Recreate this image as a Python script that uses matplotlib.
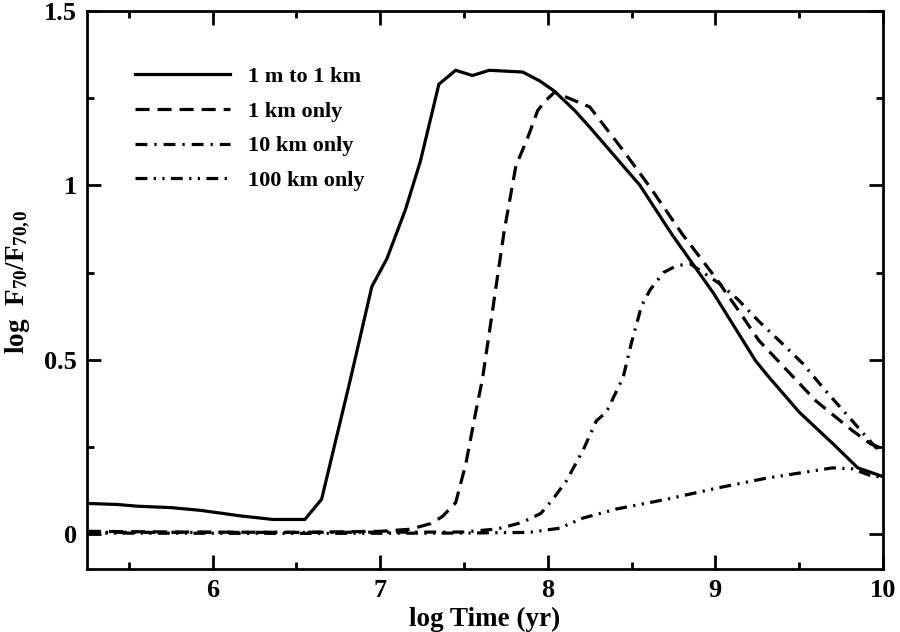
import numpy as np
import matplotlib as mpl
mpl.use("Agg")
import matplotlib.pyplot as plt

plt.rcParams['font.family'] = ['Liberation Serif', 'DejaVu Serif']
plt.rcParams['font.weight'] = 'bold'
plt.rcParams['mathtext.default'] = 'regular'

# 1 m to 1 km
x_all = [5.25, 5.43, 5.55, 5.75, 5.93, 6.17, 6.36, 6.55, 6.65, 6.82, 6.95, 7.04, 7.15, 7.24,
         7.35, 7.45, 7.55, 7.65, 7.85, 7.95, 8.04, 8.16, 8.25, 8.55, 8.74, 8.99, 9.24, 9.32,
         9.5, 9.7, 9.85, 10.0]
y_all = [0.088, 0.085, 0.080, 0.076, 0.068, 0.052, 0.042, 0.042, 0.10, 0.44, 0.71, 0.79, 0.93, 1.07,
         1.29, 1.33, 1.315, 1.33, 1.325, 1.30, 1.27, 1.215, 1.167, 1.0, 0.86, 0.69, 0.497, 0.45,
         0.35, 0.26, 0.19, 0.165]

# 1 km only
x_1km = [5.25, 5.8, 6.5, 7.0, 7.18, 7.3, 7.37, 7.45, 7.51, 7.57, 7.61, 7.67, 7.74, 7.81, 7.875,
         7.94, 7.99, 8.04, 8.25, 8.45, 8.61, 8.8, 9.0, 9.14, 9.26, 9.6, 9.82, 9.93, 10.0]
y_1km = [0.008, 0.006, 0.005, 0.008, 0.014, 0.03, 0.05, 0.09, 0.2, 0.35, 0.445, 0.64, 0.87, 1.057, 1.13,
         1.215, 1.244, 1.267, 1.225, 1.10, 0.995, 0.862, 0.736, 0.64, 0.555, 0.382, 0.296, 0.258, 0.245]

# 10 km only
x_10km = [5.25, 6.5, 7.5, 7.7, 7.82, 7.89, 7.96, 8.03, 8.11, 8.21, 8.29, 8.35, 8.41, 8.45, 8.5,
          8.56, 8.61, 8.69, 8.77, 8.85, 9.02, 9.13, 9.26, 9.40, 9.52, 9.66, 9.78, 9.96, 10.0]
y_10km = [0.005, 0.005, 0.006, 0.015, 0.03, 0.043, 0.06, 0.1, 0.152, 0.24, 0.325, 0.35, 0.41, 0.45, 0.55,
          0.655, 0.7, 0.75, 0.77, 0.775, 0.72, 0.675, 0.61, 0.546, 0.49, 0.41, 0.345, 0.247, 0.245]

# 100 km only
x_100km = [5.25, 6.5, 7.5, 7.89, 8.07, 8.21, 8.41, 8.71, 9.01, 9.30, 9.50, 9.70, 9.82, 9.93, 10.0]
y_100km = [0.003, 0.002, 0.003, 0.005, 0.017, 0.046, 0.072, 0.1, 0.132, 0.16, 0.175, 0.19, 0.187, 0.167, 0.163]

fig = plt.figure(figsize=(9, 6.32), dpi=100)
ax = fig.add_axes([0.0967, 0.0997, 0.8843, 0.8829])

lw = 2.3
ax.plot(x_all, y_all, c='k', lw=lw, label='1 m to 1 km')
ax.plot(x_1km, y_1km, c='k', lw=lw, ls=(0, (4.4, 2.5)), label='1 km only')
ax.plot(x_10km, y_10km, c='k', lw=lw, ls=(0, (3.7, 2.2, 0.7, 2.2)), label='10 km only')
ax.plot(x_100km, y_100km, c='k', lw=lw, ls=(0, (3.7, 2.0, 0.7, 2.0, 0.7, 2.0)), label='100 km only')

ax.set_xlim(5.25, 10)
ax.set_ylim(-0.1, 1.5)
ax.set_xticks([6, 7, 8, 9, 10])
ax.set_xticks(np.arange(5.5, 10, 1.0), minor=True)
ax.set_yticks([0, 0.5, 1, 1.5])
ax.set_yticklabels(['0', '0.5', '1', '1.5'])
ax.set_yticks([0.25, 0.75, 1.25], minor=True)
ax.tick_params(which='both', direction='in', top=True, right=True, width=2, labelsize=19, pad=7)
ax.tick_params(which='major', length=10)
ax.tick_params(which='minor', length=5)
for s in ax.spines.values():
    s.set_linewidth(2)

ax.set_xlabel('log Time (yr)', fontsize=19.5, fontweight='bold')
ax.set_ylabel(r'log  F$_{70}$/F$_{70,\!0}$', fontsize=19.5, fontweight='bold')
ax.yaxis.set_label_coords(-0.069, 0.515)

ax.legend(loc='upper left', bbox_to_anchor=(0.06, 0.901), frameon=False, fontsize=16,
          handlelength=4.3, handletextpad=0.8, labelspacing=0.64, borderpad=0, borderaxespad=0)

plt.savefig('out.png', dpi=100)
